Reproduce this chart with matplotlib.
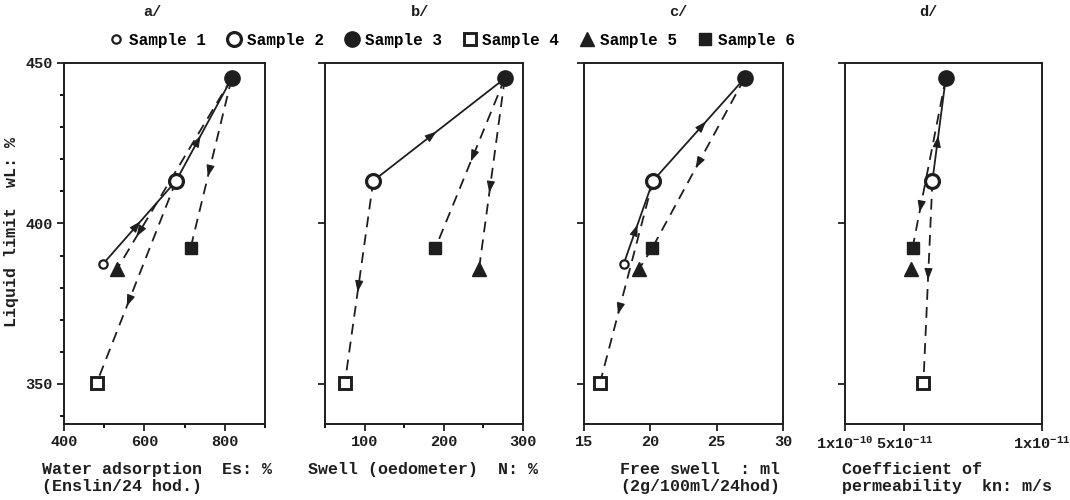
import numpy as np
import matplotlib
matplotlib.use("Agg")
import matplotlib.pyplot as plt
from matplotlib.ticker import MultipleLocator, FixedLocator, NullLocator, NullFormatter
from matplotlib.lines import Line2D

plt.rcParams['font.family'] = ['Liberation Mono', 'DejaVu Sans Mono']
plt.rcParams['font.weight'] = 'bold'
plt.rcParams['mathtext.fontset'] = 'custom'
plt.rcParams['mathtext.rm'] = 'Liberation Mono:bold'
plt.rcParams['mathtext.it'] = 'Liberation Mono:bold'
plt.rcParams['mathtext.bf'] = 'Liberation Mono:bold'

# data (nan = sample not shown in that panel)
samples = ['Sample 1', 'Sample 2', 'Sample 3', 'Sample 4', 'Sample 5', 'Sample 6']
liquid_limit = [387.5, 413.3, 445.2, 350.2, 385.8, 392.4]
water_adsorption = [498, 679, 817, 481, 532, 715]
swell_oedometer = [np.nan, 111, 277, 75, 244.5, 189.5]
free_swell = [18.0, 20.2, 27.1, 16.2, 19.15, 20.15]
permeability = [np.nan, 3.6e-11, 3.08e-11, 4.0e-11, 4.62e-11, 4.54e-11]

# connections: (from sample, to sample, solid?, arrow position along segment or None)
links_a = [(0, 1, True, 0.51), (1, 2, True, 0.44), (2, 4, False, 0.83),
           (1, 3, False, 0.62), (2, 5, False, 0.58)]
links_b = [(1, 2, True, 0.48), (1, 3, False, 0.55), (2, 5, False, 0.49), (2, 4, False, 0.6)]
links_c = [(0, 1, True, 0.47), (1, 2, True, 0.58), (2, 5, False, 0.53),
           (5, 4, False, None), (1, 3, False, 0.66)]
links_d = [(1, 2, True, 0.44), (2, 5, False, 0.79), (1, 3, False, 0.49)]

ink = '#1e1e1e'
marker_styles = [
    dict(marker='o', ms=6, mfc='white', mec=ink, mew=1.6),
    dict(marker='o', ms=10, mfc='white', mec=ink, mew=2.3),
    dict(marker='o', ms=11, mfc=ink, mec=ink, mew=1),
    dict(marker='s', ms=9, mfc='white', mec=ink, mew=2.1),
    dict(marker='^', ms=10, mfc=ink, mec=ink, mew=1),
    dict(marker='s', ms=8, mfc=ink, mec=ink, mew=1),
]

fig = plt.figure(figsize=(10.7, 5.0), dpi=100)
W, H = 1070.0, 500.0

def axbox(left, right, top=63, bottom=424):
    return [left / W, 1 - bottom / H, (right - left) / W, (bottom - top) / H]

ax_a = fig.add_axes(axbox(64, 265))
ax_b = fig.add_axes(axbox(325, 523))
ax_c = fig.add_axes(axbox(584, 783))
ax_d = fig.add_axes(axbox(845, 1042))

for ax in (ax_a, ax_b, ax_c, ax_d):
    ax.set_ylim(337.5, 450)
    ax.yaxis.set_major_locator(FixedLocator([350, 400, 450]))
    ax.tick_params(direction='out', length=5, width=1.3, labelsize=11, colors=ink, pad=3)
    ax.tick_params(which='minor', direction='out', length=3, width=1.3)
    for s in ax.spines.values():
        s.set_linewidth(1.4)
        s.set_color(ink)

ax_a.yaxis.set_minor_locator(MultipleLocator(10))
for ax in (ax_b, ax_c, ax_d):
    ax.yaxis.set_major_formatter(NullFormatter())

ax_a.set_xlim(400, 900)
ax_a.xaxis.set_major_locator(FixedLocator([400, 600, 800]))
ax_a.xaxis.set_minor_locator(FixedLocator([500, 700, 900]))

ax_b.set_xlim(50, 300)
ax_b.xaxis.set_major_locator(FixedLocator([100, 200, 300]))
ax_b.xaxis.set_minor_locator(FixedLocator([50, 150, 250]))

ax_c.set_xlim(15, 30)
ax_c.xaxis.set_major_locator(FixedLocator([15, 20, 25, 30]))

ax_d.set_xscale('log')
ax_d.set_xlim(1e-10, 1e-11)
ax_d.xaxis.set_major_locator(FixedLocator([1e-10, 5e-11, 1e-11]))
ax_d.xaxis.set_minor_locator(NullLocator())
ax_d.set_xticklabels(['1x10$^{-10}$', '5x10$^{-11}$', '1x10$^{-11}$'])


def draw_panel(ax, xs, links):
    for i, j, solid, t in links:
        p = (xs[i], liquid_limit[i])
        q = (xs[j], liquid_limit[j])
        if solid:
            ax.plot([p[0], q[0]], [p[1], q[1]], color=ink, lw=1.3, zorder=2)
        else:
            ax.plot([p[0], q[0]], [p[1], q[1]], color=ink, lw=1.3,
                    dashes=(6, 4), zorder=2)
        if t is not None:
            d0 = ax.transData.transform(p)
            d1 = ax.transData.transform(q)
            v = d1 - d0
            u = v / np.hypot(*v)
            tip = d0 + t * v
            back = tip - 8 * u
            inv = ax.transData.inverted()
            ax.annotate('', xy=inv.transform(tip), xytext=inv.transform(back),
                        arrowprops=dict(arrowstyle='-|>,head_length=0.7,head_width=0.25',
                                        color=ink, lw=0.8, shrinkA=0, shrinkB=0),
                        zorder=3)
    for k in range(len(samples)):
        if not np.isnan(xs[k]):
            ax.plot(xs[k], liquid_limit[k], ls='none', zorder=4, **marker_styles[k])


draw_panel(ax_a, water_adsorption, links_a)
draw_panel(ax_b, swell_oedometer, links_b)
draw_panel(ax_c, free_swell, links_c)
draw_panel(ax_d, permeability, links_d)

# panel titles
for txt, xp in [('a/', 152), ('b/', 420), ('c/', 678), ('d/', 928)]:
    fig.text(xp / W, 1 - 12 / H, txt, ha='center', va='center', fontsize=11, color=ink)

# x axis labels
lab = dict(va='top', fontsize=12, linespacing=1.15, color=ink)
fig.text(42 / W, 1 - 462 / H, 'Water adsorption  Es: %\n(Enslin/24 hod.)', ha='left', **lab)
fig.text(308 / W, 1 - 462 / H, 'Swell (oedometer)  N: %', ha='left', **lab)
fig.text(700 / W, 1 - 462 / H, 'Free swell  : ml\n(2g/100ml/24hod)',
         ha='center', multialignment='center', **lab)
fig.text(842 / W, 1 - 462 / H, 'Coefficient of\npermeability  kn: m/s', ha='left', **lab)

fig.text(12 / W, 1 - 232 / H, 'Liquid limit  wL: %', rotation=90,
         ha='center', va='center', fontsize=12, color=ink)

handles = [Line2D([], [], ls='none', **marker_styles[k]) for k in range(len(samples))]
fig.legend(handles, samples, loc='center', bbox_to_anchor=(452 / W, 1 - 40 / H),
           ncol=6, frameon=False, fontsize=11.5, handletextpad=0.35,
           columnspacing=1.3, handlelength=0.9, borderpad=0)

fig.savefig('out.png', dpi=100)
